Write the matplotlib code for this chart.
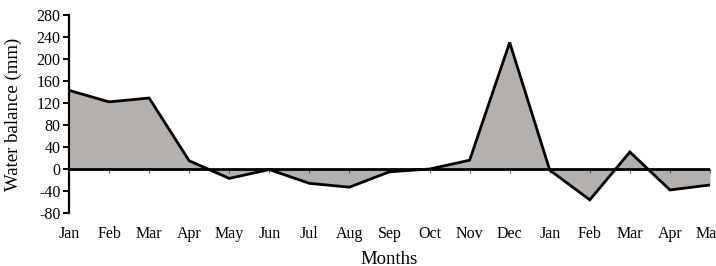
import matplotlib

matplotlib.use("Agg")
import matplotlib.pyplot as plt
import numpy as np

months = ["Jan", "Feb", "Mar", "Apr", "May", "Jun", "Jul", "Aug", "Sep",
          "Oct", "Nov", "Dec", "Jan", "Feb", "Mar", "Apr", "May"]
balance = [143, 122, 129, 15, -17, -1, -26, -33, -5,
           0, 16, 230, -2, -56, 31, -38, -29]
yticks = [-80, -40, 0, 40, 80, 120, 160, 200, 240, 280]

plt.rcParams["font.family"] = ["Liberation Serif", "DejaVu Serif"]
plt.rcParams["font.size"] = 11.5
plt.rcParams["axes.unicode_minus"] = False

fig = plt.figure(figsize=(7.16, 2.66), dpi=100)
ax = fig.add_axes([69 / 716, 0.199, (710 - 69) / 716, 0.745])

x = np.arange(len(months))
y = np.array(balance, dtype=float)
ax.fill_between(x, y, 0, color="#b3b0ae", linewidth=0)
ax.plot(x, y, color="black", linewidth=2, solid_joinstyle="miter")
ax.axhline(0, color="black", linewidth=2, zorder=3)

ax.set_xlim(0, len(months) - 1)
ax.set_ylim(-80, 280)
ax.set_yticks(yticks)
ax.set_xticks(x)
ax.set_xticklabels(months)

for s in ["top", "right"]:
    ax.spines[s].set_visible(False)
ax.spines["bottom"].set_position(("data", 0))
ax.spines["bottom"].set_visible(False)
ax.spines["left"].set_linewidth(1.6)

ax.tick_params(axis="y", direction="out", length=4, width=1.4, pad=2)
ax.tick_params(axis="x", direction="out", length=3, width=0.8, pad=38,
               color="#555555")

ax.set_ylabel("Water balance (mm)", fontsize=13.5)
ax.yaxis.set_label_coords(-0.074, 0.5)
ax.set_xlabel("Months", fontsize=13.5)
ax.xaxis.set_label_coords(0.5, -0.19)

fig.savefig("out.png", dpi=100)
